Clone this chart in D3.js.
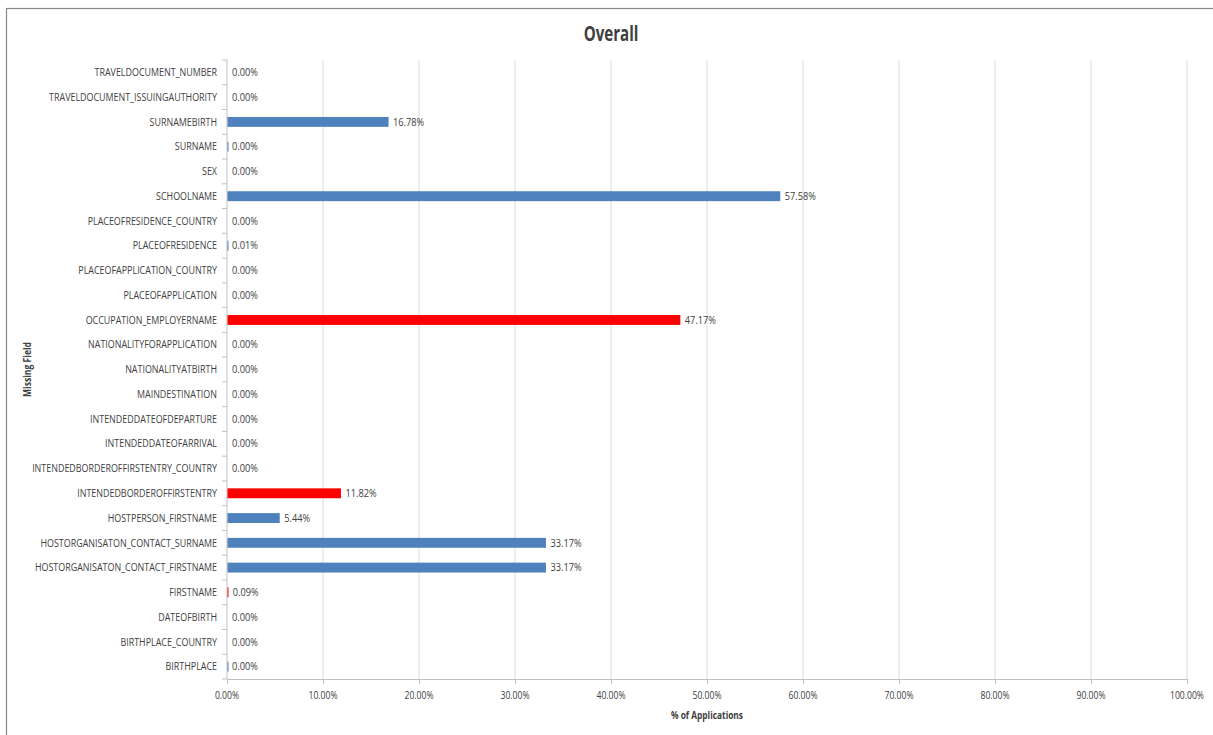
<!DOCTYPE html>
<html>
<head>
<meta charset="utf-8">
<script src="https://cdn.jsdelivr.net/npm/d3@7"></script>
<style>
  body { margin: 0; background: #fff; }
  text { font-family: "Open Sans", "Noto Sans", sans-serif; fill: #404040; }
</style>
</head>
<body>
<svg id="chart" width="1213" height="735"></svg>
<script>
// fields, top to bottom as drawn
const fields = [
    "TRAVELDOCUMENT_NUMBER", "TRAVELDOCUMENT_ISSUINGAUTHORITY", "SURNAMEBIRTH", "SURNAME", "SEX",
    "SCHOOLNAME", "PLACEOFRESIDENCE_COUNTRY", "PLACEOFRESIDENCE", "PLACEOFAPPLICATION_COUNTRY",
    "PLACEOFAPPLICATION", "OCCUPATION_EMPLOYERNAME", "NATIONALITYFORAPPLICATION", "NATIONALITYATBIRTH",
    "MAINDESTINATION", "INTENDEDDATEOFDEPARTURE", "INTENDEDDATEOFARRIVAL",
    "INTENDEDBORDEROFFIRSTENTRY_COUNTRY", "INTENDEDBORDEROFFIRSTENTRY", "HOSTPERSON_FIRSTNAME",
    "HOSTORGANISATON_CONTACT_SURNAME", "HOSTORGANISATON_CONTACT_FIRSTNAME", "FIRSTNAME",
    "DATEOFBIRTH", "BIRTHPLACE_COUNTRY", "BIRTHPLACE"
];
// % of applications missing the field
const missingPct = [
    0, 0, 16.78, 0.004, 0,
    57.58, 0, 0.01, 0,
    0, 47.17, 0, 0,
    0, 0, 0,
    0, 11.82, 5.44,
    33.17, 33.17, 0.09,
    0, 0, 0.004
];
// fields highlighted in red
const highlighted = ["OCCUPATION_EMPLOYERNAME", "INTENDEDBORDEROFFIRSTENTRY", "FIRSTNAME"];
const xTicks = [0, 10, 20, 30, 40, 50, 60, 70, 80, 90, 100];

const margin = { top: 60, right: 26, bottom: 56, left: 227 };
const W = 1213, H = 735;
const width = W - margin.left - margin.right;
const height = H - margin.top - margin.bottom;

const svg = d3.select("#chart");

// narrow text (the original font is a condensed one, so squeeze Open Sans)
function narrowText(sel, px, py, sx) {
    return sel.append("text")
        .attr("transform", `translate(${px}, ${py}) scale(${sx}, 1)`);
}

// chart frame
svg.append("rect")
    .attr("x", 6.5).attr("y", 8.5)
    .attr("width", 1220).attr("height", 740)
    .attr("fill", "none").attr("stroke", "#868686").attr("stroke-width", 1.2);

const g = svg.append("g").attr("transform", `translate(${margin.left}, ${margin.top})`);

const x = d3.scaleLinear().domain([0, 100]).range([0, width]);
const y = d3.scaleBand().domain(fields).range([0, height]).paddingInner(0.6).paddingOuter(0.3);

// gridlines
g.selectAll(".grid")
    .data(xTicks.slice(1))
    .enter().append("line")
    .attr("x1", d => x(d)).attr("x2", d => x(d))
    .attr("y1", 0).attr("y2", height)
    .attr("stroke", "#d9d9d9").attr("stroke-width", 1);

// x axis
const xAxis = g.append("g")
    .attr("transform", `translate(0, ${height})`)
    .call(d3.axisBottom(x).tickValues(xTicks).tickFormat("").tickSize(5));
xAxis.select(".domain").attr("stroke", "#bfbfbf");
xAxis.selectAll(".tick line").attr("stroke", "#bfbfbf");
xTicks.forEach(t => {
    narrowText(g, x(t), height + 20, 0.82)
        .attr("text-anchor", "middle")
        .attr("font-size", 10.5)
        .text(t.toFixed(2) + "%");
});

// y axis (ticks at band boundaries)
const step = y.step();
const bounds = d3.range(fields.length + 1).map(i => i * step);
g.append("line")
    .attr("x1", 0).attr("x2", 0).attr("y1", 0).attr("y2", height)
    .attr("stroke", "#bfbfbf");
g.selectAll(".ytick")
    .data(bounds)
    .enter().append("line")
    .attr("x1", -5).attr("x2", 0)
    .attr("y1", d => d).attr("y2", d => d)
    .attr("stroke", "#bfbfbf");

fields.forEach(f => {
    narrowText(g, -10, y(f) + y.bandwidth() / 2, 0.85)
        .attr("dy", "0.35em")
        .attr("text-anchor", "end")
        .attr("font-size", 10.5)
        .text(f);
});

// bars
const data = fields.map((f, i) => ({ field: f, value: missingPct[i] }));
g.selectAll(".bar")
    .data(data)
    .enter().append("rect")
    .attr("x", x(0) + 0.5)
    .attr("y", d => y(d.field))
    .attr("width", d => d.value > 0 ? Math.max(1, x(d.value) - x(0)) : 0)
    .attr("height", y.bandwidth())
    .attr("fill", d => highlighted.includes(d.field) ? "#ff0000" : "#4f81bd");

// value labels
data.forEach(d => {
    narrowText(g, x(d.value) + 5, y(d.field) + y.bandwidth() / 2, 0.88)
        .attr("dy", "0.35em")
        .attr("font-size", 10.5)
        .text(d.value.toFixed(2) + "%");
});

// titles
narrowText(svg, 611, 41, 0.72)
    .attr("text-anchor", "middle")
    .attr("font-size", 21).attr("font-weight", "bold").attr("fill", "#000")
    .text("Overall");

narrowText(svg, 707, 719, 0.76)
    .attr("text-anchor", "middle")
    .attr("font-size", 11).attr("font-weight", "bold").attr("fill", "#000")
    .text("% of Applications");

svg.append("g")
    .attr("transform", `translate(31, ${margin.top + height / 2}) rotate(-90)`)
    .append("text")
    .attr("transform", "scale(0.78, 1)")
    .attr("text-anchor", "middle")
    .attr("font-size", 11).attr("font-weight", "bold").attr("fill", "#000")
    .text("Missing Field");
</script>
</body>
</html>
